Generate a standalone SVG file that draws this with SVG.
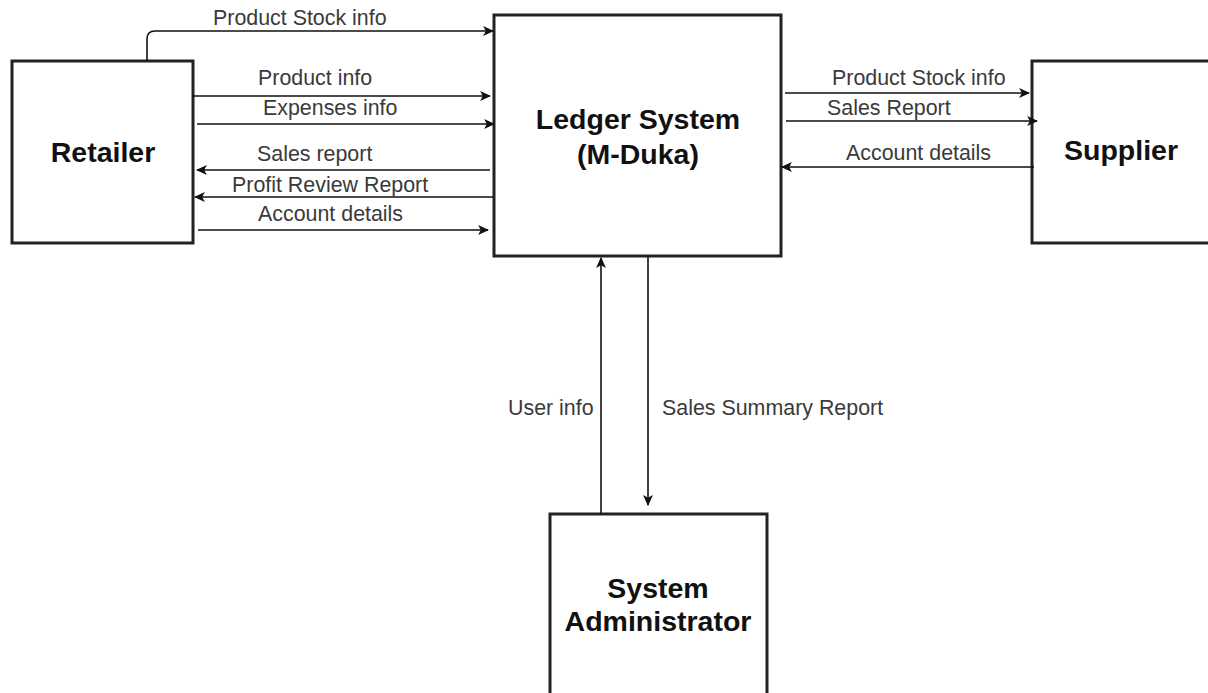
<svg xmlns="http://www.w3.org/2000/svg" width="1208" height="693" viewBox="0 0 1208 693">
  <defs>
    <marker id="arrow" viewBox="0 0 10 10" refX="9" refY="5" markerWidth="11" markerHeight="11" markerUnits="userSpaceOnUse" orient="auto">
      <path d="M0,0.5 L10,5 L0,9.5 L2.5,5 Z" fill="#111"/>
    </marker>
    <style>
      .box { fill: #fff; stroke: #222; stroke-width: 3; }
      .title { font-family: "Liberation Sans", Arial, sans-serif; font-weight: bold; font-size: 28.5px; fill: #111; text-anchor: middle; }
      .flow { fill: none; stroke: #111; stroke-width: 1.6; marker-end: url(#arrow); }
      .label { font-family: "Liberation Sans", Arial, sans-serif; font-size: 21.4px; fill: #3a3a3a; }
    </style>
  </defs>
  <rect width="1208" height="693" fill="#fff"/>

  <!-- External entities and the central process -->
  <g id="retailer">
    <rect class="box" x="12" y="61" width="181" height="182"/>
    <text class="title" x="103" y="162">Retailer</text>
  </g>
  <g id="ledger-system">
    <rect class="box" x="494" y="15" width="287" height="241"/>
    <text class="title" x="638" y="129">Ledger System</text>
    <text class="title" x="638" y="164">(M-Duka)</text>
  </g>
  <g id="supplier">
    <rect class="box" x="1032" y="61" width="182" height="182"/>
    <text class="title" x="1121" y="160">Supplier</text>
  </g>
  <g id="system-administrator">
    <rect class="box" x="550" y="514" width="217" height="190"/>
    <text class="title" x="658" y="598">System</text>
    <text class="title" x="658" y="631">Administrator</text>
  </g>

  <!-- Data flows -->
  <g id="connectors">
    <path class="flow" d="M147,61 V39 Q147,31 155,31 H493"/>
    <path class="flow" d="M193,96 H490"/>
    <path class="flow" d="M197,124 H494"/>
    <path class="flow" d="M490,170 H197"/>
    <path class="flow" d="M493,197 H195"/>
    <path class="flow" d="M198,230 H488"/>

    <path class="flow" d="M785,93 H1029"/>
    <path class="flow" d="M786,121 H1037"/>
    <path class="flow" d="M1034,167 H782"/>

    <path class="flow" d="M601,514 V258"/>
    <path class="flow" d="M648,257 V505"/>
  </g>

  <!-- Flow labels -->
  <g id="labels">
    <text class="label" x="213" y="25">Product Stock info</text>
    <text class="label" x="258" y="85">Product info</text>
    <text class="label" x="263" y="115">Expenses info</text>
    <text class="label" x="257" y="161">Sales report</text>
    <text class="label" x="232" y="192">Profit Review Report</text>
    <text class="label" x="258" y="221">Account details</text>
    <text class="label" x="832" y="85">Product Stock info</text>
    <text class="label" x="827" y="115">Sales Report</text>
    <text class="label" x="846" y="160">Account details</text>
    <text class="label" x="508" y="415">User info</text>
    <text class="label" x="662" y="415">Sales Summary Report</text>
  </g>
</svg>
